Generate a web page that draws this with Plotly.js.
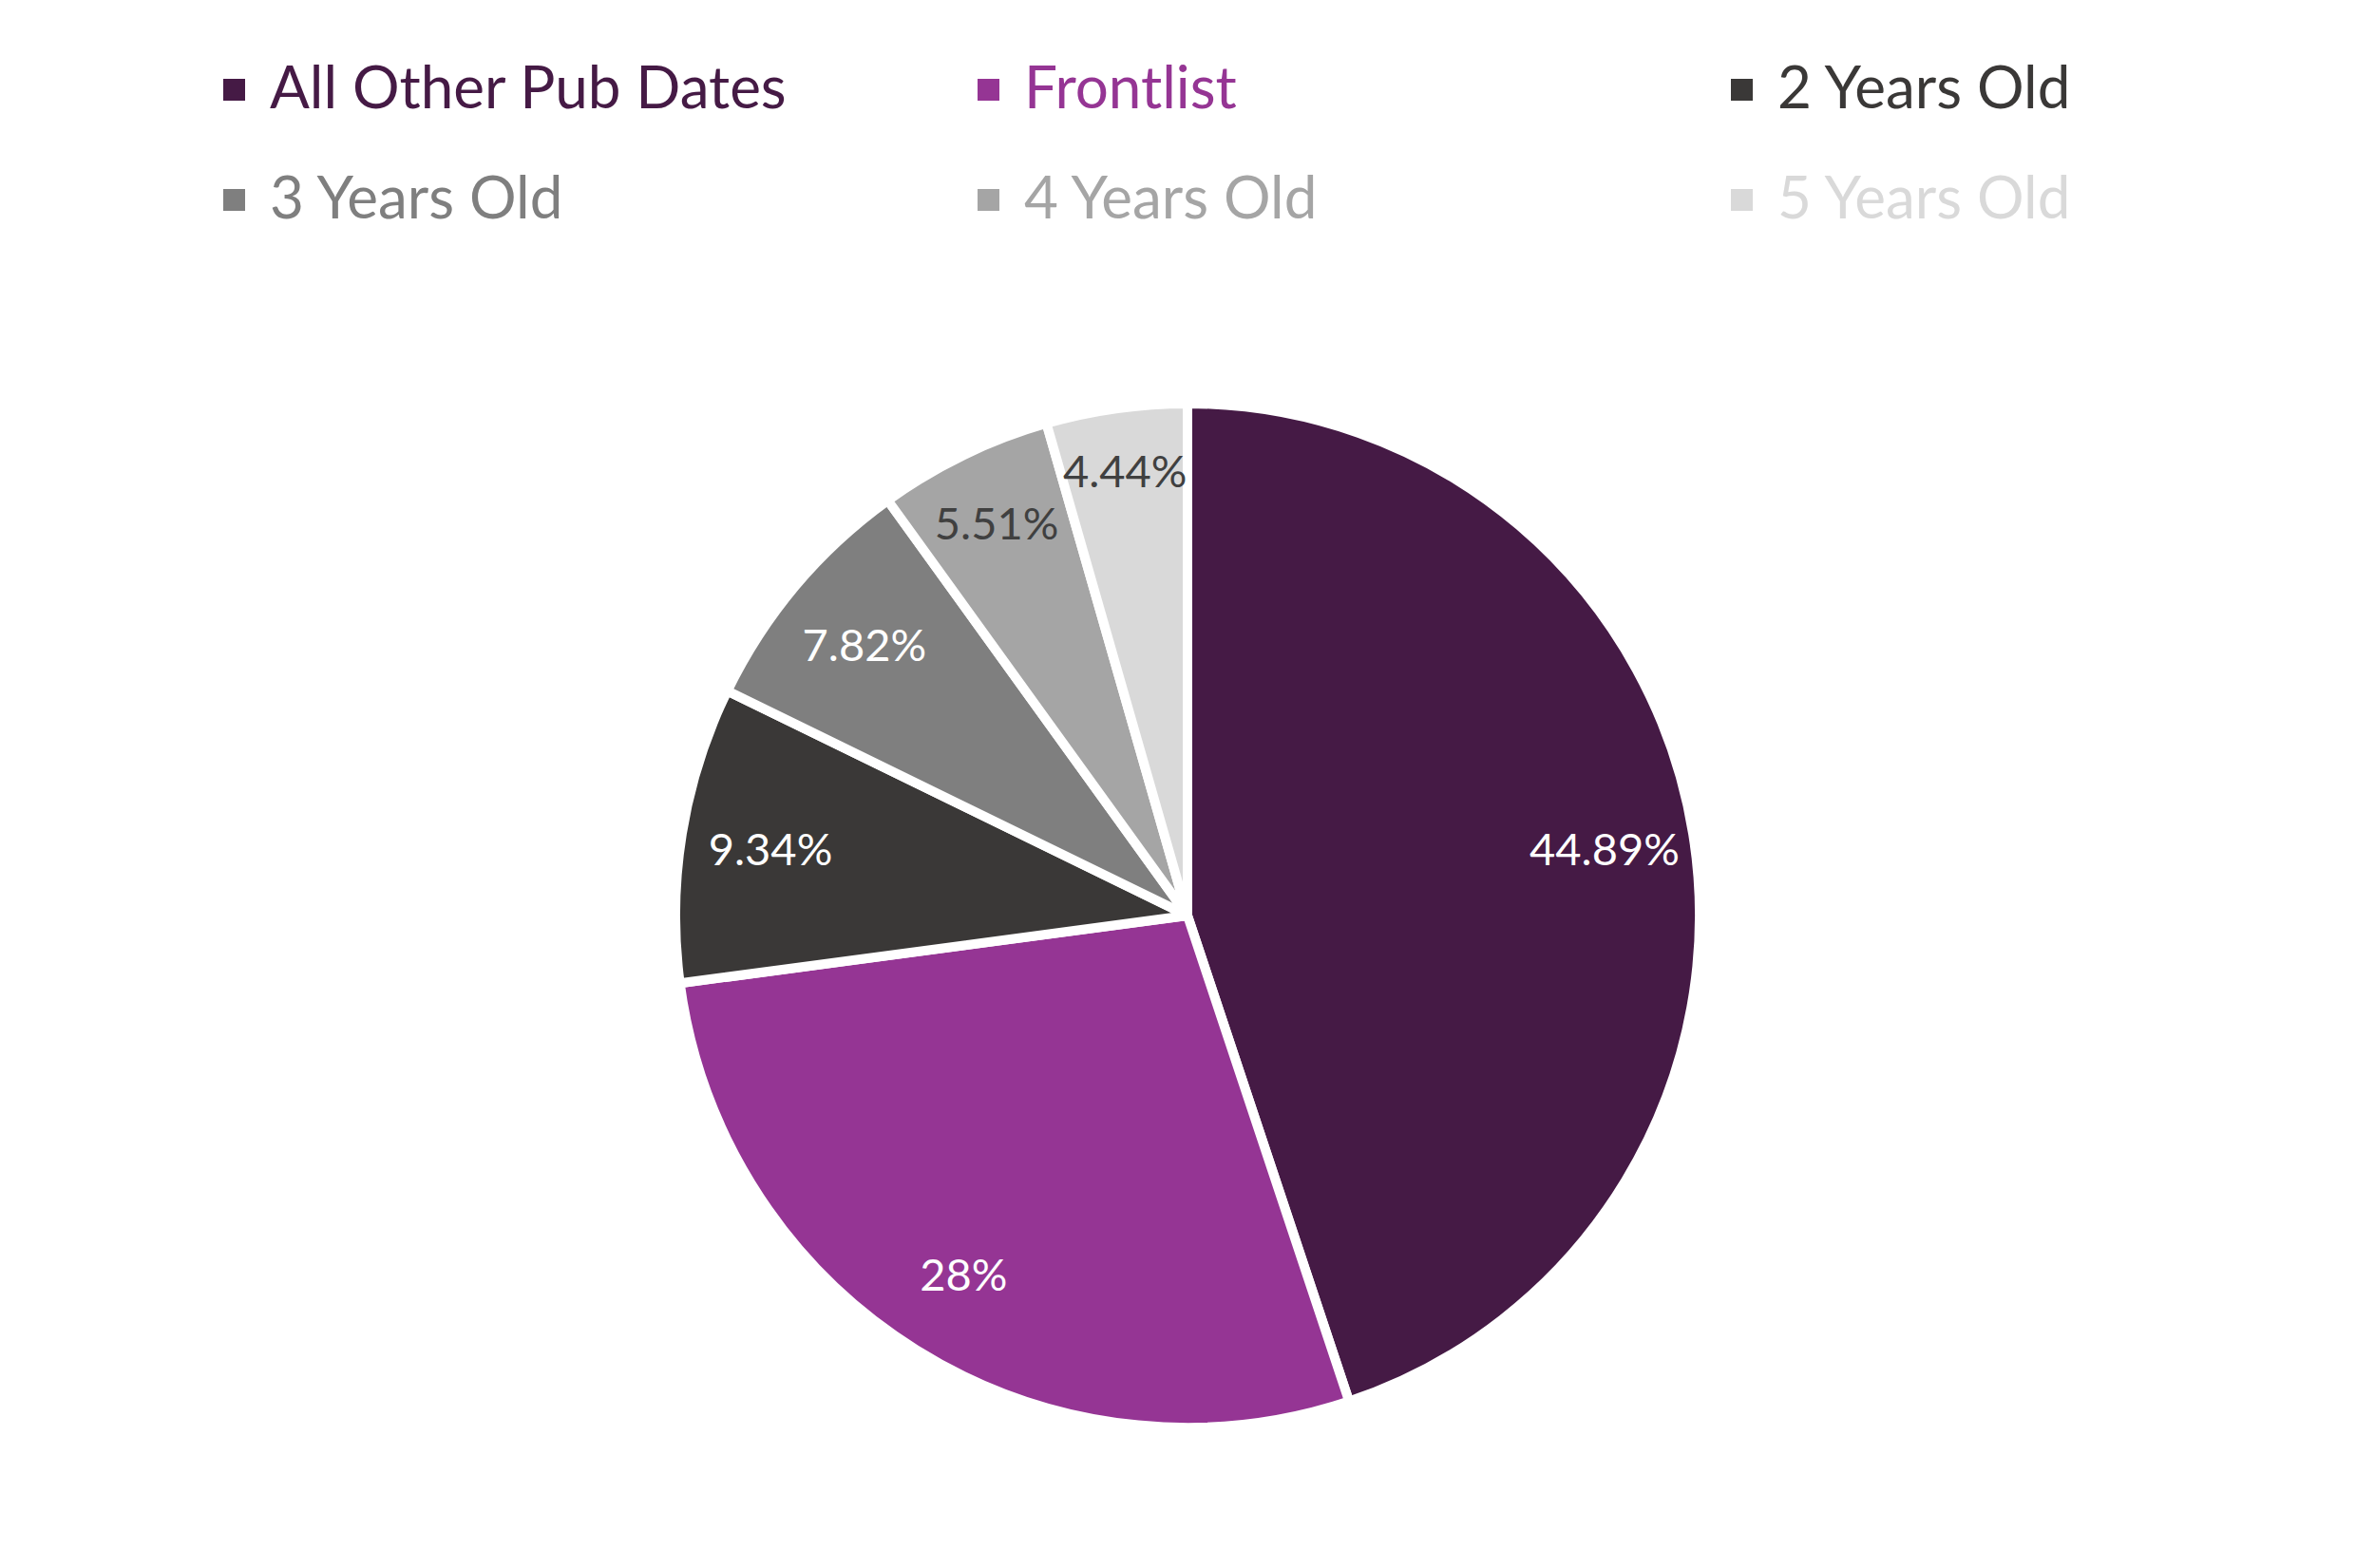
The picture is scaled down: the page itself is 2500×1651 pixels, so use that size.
<!DOCTYPE html>
<html>
<head>
<meta charset="utf-8">
<script src="https://cdn.plot.ly/plotly-3.0.1.min.js"></script>
<style>
  body { margin: 0; background: #fff; }
  #pie { width: 2500px; height: 1651px; }
</style>
</head>
<body>
<div id="pie"></div>
<script>
const labels = ['All Other Pub Dates', 'Frontlist', '2 Years Old', '3 Years Old', '4 Years Old', '5 Years Old'];
const shares = [44.89, 28, 9.34, 7.82, 5.51, 4.44];
const sliceColors = ['#451a45', '#953594', '#3a3837', '#7f7f7f', '#a5a5a5', '#d9d9d9'];
const labelColors = ['#ffffff', '#ffffff', '#ffffff', '#ffffff', '#404040', '#404040'];

const W = 2500;
const H = 1651;

// legend grid (3 columns x 2 rows), in pixels
const legendCols = [235, 1029, 1822];
const legendRows = [94, 210];

const pieDomain = { x: [0.2, 0.8], y: [0.0896, 0.7426] };

// the slices themselves
const slices = {
  type: 'pie',
  labels: labels,
  values: shares,
  textinfo: 'none',
  sort: false,
  direction: 'clockwise',
  rotation: 0,
  marker: {
    colors: sliceColors,
    line: { color: '#ffffff', width: 10 },
  },
  domain: pieDomain,
  hoverinfo: 'label+percent',
};

// same slices again, see-through with a hole, only so the % labels
// sit out near the rim like the original
const sliceLabels = {
  type: 'pie',
  labels: labels,
  values: shares,
  text: shares.map((v) => `${v}%`),
  textinfo: 'text',
  textposition: 'inside',
  insidetextorientation: 'horizontal',
  hole: 0.65,
  sort: false,
  direction: 'clockwise',
  rotation: 0,
  marker: {
    colors: labels.map(() => 'rgba(0,0,0,0)'),
    line: { width: 0 },
  },
  textfont: { family: 'Lato, sans-serif', size: 47, color: labelColors },
  domain: pieDomain,
  hoverinfo: 'skip',
};

const shapes = [];
const annotations = [];
labels.forEach((name, i) => {
  const x = legendCols[i % 3];
  const y = legendRows[Math.floor(i / 3)];
  shapes.push({
    type: 'rect',
    xref: 'paper',
    yref: 'paper',
    x0: x / W,
    x1: (x + 23) / W,
    y0: 1 - (y - 11) / H,
    y1: 1 - (y + 12) / H,
    fillcolor: sliceColors[i],
    line: { width: 0 },
  });
  annotations.push({
    xref: 'paper',
    yref: 'paper',
    x: (x + 47) / W,
    y: 1 - (y - 4) / H,
    xanchor: 'left',
    yanchor: 'middle',
    showarrow: false,
    text: name,
    font: { family: 'Lato, sans-serif', size: 62, color: sliceColors[i] },
  });
});

const layout = {
  width: W,
  height: H,
  margin: { l: 0, r: 0, t: 0, b: 0 },
  paper_bgcolor: '#ffffff',
  showlegend: false,
  uniformtext: { mode: 'show', minsize: 47 },
  shapes: shapes,
  annotations: annotations,
};

Plotly.newPlot('pie', [slices, sliceLabels], layout, { displayModeBar: false });
</script>
</body>
</html>
